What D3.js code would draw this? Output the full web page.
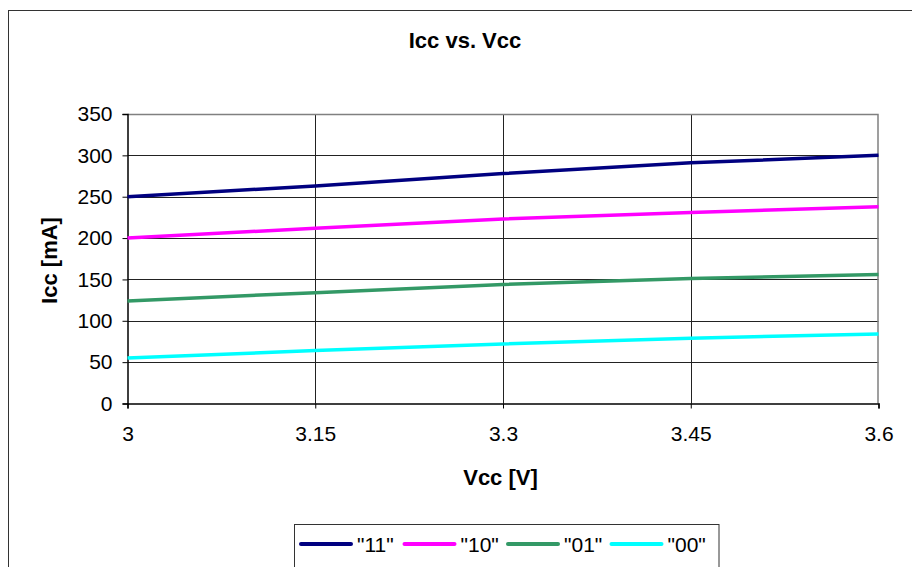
<!DOCTYPE html>
<html>
<head>
<meta charset="utf-8">
<script src="https://cdn.jsdelivr.net/npm/d3@7/dist/d3.min.js"></script>
<style>
  html, body { margin: 0; padding: 0; background: #fff; }
  svg { display: block; font-family: "Liberation Sans", Arial, sans-serif; }
</style>
</head>
<body>
<svg id="chart" width="912" height="567"></svg>
<script>
const vcc = [3, 3.15, 3.3, 3.45, 3.6];
const s11 = [250, 263, 278, 291, 300];
const s10 = [200, 212, 223, 231, 238];
const s01 = [124, 134, 144, 151, 156];
const s00 = [55, 64, 72, 79, 84];
const seriesNames = ['"11"', '"10"', '"01"', '"00"'];
const seriesColors = ["#000080", "#FF00FF", "#339966", "#00FFFF"];
const yTicks = [0, 50, 100, 150, 200, 250, 300, 350];
const xTicks = [3, 3.15, 3.3, 3.45, 3.6];

const series = [s11, s10, s01, s00].map((vals, i) => ({
  name: seriesNames[i], color: seriesColors[i],
  points: vals.map((v, j) => ({ x: vcc[j], y: v }))
}));

const svg = d3.select("#chart");
const pL = 127.5, pR = 878.5, pT = 114, pB = 403.5;

// outer chart frame
svg.append("rect").attr("x", 8.5).attr("y", 10.5).attr("width", 1000).attr("height", 1000)
  .attr("fill", "#fff").attr("stroke", "#333").attr("stroke-width", 1);

const x = d3.scaleLinear().domain([3, 3.6]).range([pL, pR]);
const y = d3.scaleLinear().domain([0, 350]).range([pB, pT]);

// gridlines
svg.append("g").selectAll("line").data(yTicks.slice(1, -1)).join("line")
  .attr("x1", pL).attr("x2", pR)
  .attr("y1", d => Math.round(y(d)) + 0.5).attr("y2", d => Math.round(y(d)) + 0.5)
  .attr("stroke", "#222").attr("stroke-width", 1);
svg.append("g").selectAll("line").data(xTicks.slice(1, -1)).join("line")
  .attr("y1", pT).attr("y2", pB)
  .attr("x1", d => Math.round(x(d)) + 0.5).attr("x2", d => Math.round(x(d)) + 0.5)
  .attr("stroke", "#222").attr("stroke-width", 1);

// plot border (top/right gray)
svg.append("path")
  .attr("d", `M${pL},${pT + 0.5}H${pR - 0.5}V${pB}`)
  .attr("fill", "none").attr("stroke", "#808080").attr("stroke-width", 1.5);

// axes
const yAxis = d3.axisLeft(y).tickValues(yTicks).tickSize(5).tickPadding(10)
  .tickFormat(d3.format("d"));
const gy = svg.append("g").attr("transform", `translate(${pL},0)`).call(yAxis);
gy.select(".domain").attr("stroke", "#000").attr("stroke-width", 1.5);
gy.selectAll(".tick line").attr("stroke", "#000");
gy.selectAll("text").attr("font-size", 21).attr("fill", "#000")
  .attr("font-family", '"Liberation Sans", Arial, sans-serif');

const xAxis = d3.axisBottom(x).tickValues(xTicks).tickSize(5).tickPadding(18)
  .tickFormat(d => String(d));
const gx = svg.append("g").attr("transform", `translate(0,${pB})`).call(xAxis);
gx.select(".domain").attr("stroke", "#000").attr("stroke-width", 1.5);
gx.selectAll(".tick line").attr("stroke", "#000");
gx.selectAll("text").attr("font-size", 21).attr("fill", "#000")
  .attr("font-family", '"Liberation Sans", Arial, sans-serif');

// lines
const line = d3.line().x(d => x(d.x)).y(d => y(d.y));
svg.append("g").selectAll("path").data(series).join("path")
  .attr("d", d => line(d.points))
  .attr("fill", "none").attr("stroke", d => d.color).attr("stroke-width", 3.5);

// title
svg.append("text").attr("x", 465).attr("y", 48).attr("text-anchor", "middle")
  .attr("font-size", 22).attr("font-weight", "bold").text("Icc vs. Vcc");

// axis titles
svg.append("text").attr("x", 500.5).attr("y", 485).attr("text-anchor", "middle")
  .attr("font-size", 22).attr("font-weight", "bold").text("Vcc [V]");
svg.append("text").attr("transform", "translate(57,260.5) rotate(-90)")
  .attr("text-anchor", "middle")
  .attr("font-size", 22).attr("font-weight", "bold").text("Icc [mA]");

// legend
const lg = svg.append("g");
lg.append("rect").attr("x", 294.5).attr("y", 524.5).attr("width", 424.5).attr("height", 80)
  .attr("fill", "#fff").attr("stroke", "#333").attr("stroke-width", 1);
const items = lg.selectAll("g.item").data(series).join("g")
  .attr("transform", (d, i) => `translate(${301 + i * 103.5},544)`);
items.append("line").attr("x1", 0).attr("x2", 50).attr("y1", 0).attr("y2", 0)
  .attr("stroke", d => d.color).attr("stroke-width", 4).attr("stroke-linecap", "round");
items.append("text").attr("x", 56).attr("y", 7.5).attr("font-size", 21)
  .text(d => d.name);
</script>
</body>
</html>
